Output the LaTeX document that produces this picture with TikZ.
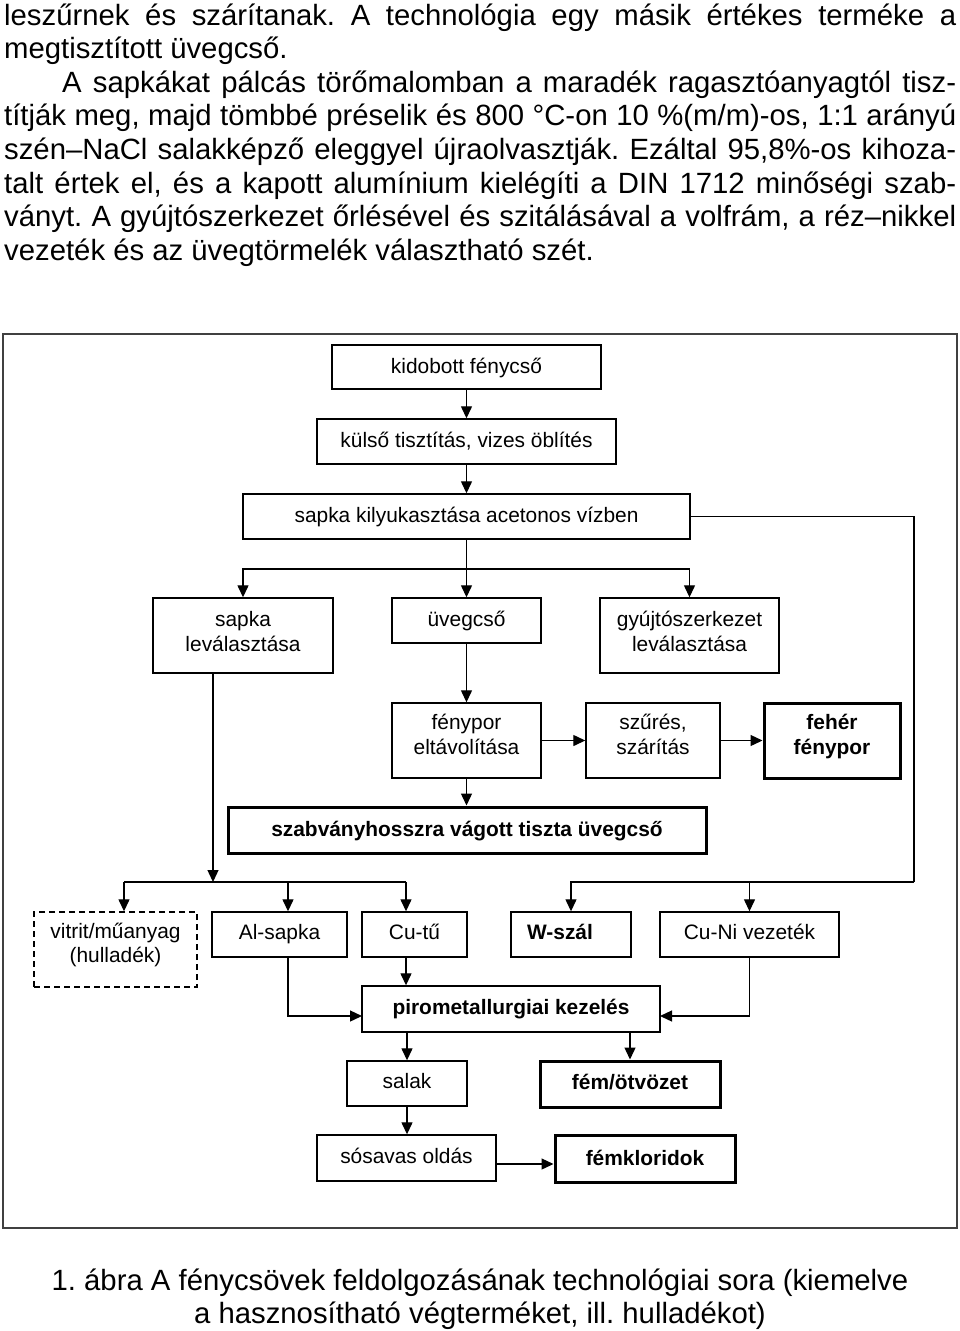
\documentclass[tikz,border=0pt]{standalone}
\usepackage{fontspec}
\setmainfont{Liberation Sans}
\usetikzlibrary{arrows.meta,calc}
\newcommand\bodyfnt{\fontsize{29.3pt}{33.6pt}\selectfont}
\newcommand\boxfnt{\fontsize{20.9pt}{24.5pt}\selectfont}
\newcommand\fstrut{\rule{0pt}{16pt}}
\frenchspacing
\begin{document}
\begin{tikzpicture}[x=1pt,y=-1pt,
  box/.style={draw, line width=1.4pt, inner sep=0pt},
  thickbox/.style={draw, line width=3pt, inner sep=0pt},
  dbox/.style={draw, line width=1.4pt, inner sep=0pt, dash pattern=on 6pt off 4pt},
  txt/.style={anchor=base, inner sep=0pt, font=\boxfnt},
  btxt/.style={anchor=base, inner sep=0pt, font=\boxfnt\bfseries},
  ttxt/.style={anchor=north, align=center, inner sep=0pt, font=\boxfnt},
  bttxt/.style={anchor=north, align=center, inner sep=0pt, font=\boxfnt\bfseries},
  body/.style={anchor=base west, inner sep=0pt, font=\bodyfnt},
  captxt/.style={anchor=base, inner sep=0pt, font=\bodyfnt},
  ln/.style={line width=1.3pt},
  arr/.style={line width=1.3pt, -{Triangle[length=12pt,width=11pt]}}]
\useasboundingbox (0,0) rectangle (960,1331);

% body text
\node[body] (l1) at (4,25) {\makebox[952pt][s]{leszűrnek és szárítanak. A technológia egy másik értékes terméke a}};
\node[body] (l2) at (4,58.6) {megtisztított üvegcső.};
\node[body] (l3) at (62,92.2) {\makebox[894pt][s]{A sapkákat pálcás törőmalomban a maradék ragasztóanyagtól tisz-}};
\node[body] (l4) at (4,125.8) {\makebox[952pt][s]{títják meg, majd tömbbé préselik és 800 °C-on 10 \%(m/m)-os, 1:1 arányú}};
\node[body] (l5) at (4,159.4) {\makebox[952pt][s]{szén–NaCl salakképző eleggyel újraolvasztják. Ezáltal 95,8\%-os kihoza-}};
\node[body] (l6) at (4,193) {\makebox[952pt][s]{talt értek el, és a kapott alumínium kielégíti a DIN 1712 minőségi szab-}};
\node[body] (l7) at (4,226.6) {\makebox[952pt][s]{ványt. A gyújtószerkezet őrlésével és szitálásával a volfrám, a réz–nikkel}};
\node[body] (l8) at (4,260.2) {vezeték és az üvegtörmelék választható szét.};

% frame
\node[draw=black!75, line width=1.5pt, inner sep=0pt, minimum width=954pt, minimum height=894pt] (frame) at (480,781) {};

% boxes
\node[box, minimum width=269pt, minimum height=44pt] (kid) at (466.5,367) {};
\node[box, minimum width=299pt, minimum height=45pt] (kul) at (466.5,441.5) {};
\node[box, minimum width=447pt, minimum height=45pt] (kil) at (466.5,516.5) {};
\node[box, minimum width=180pt, minimum height=75pt] (slev) at (243,635.5) {};
\node[box, minimum width=149pt, minimum height=45pt] (uveg) at (466.5,620.5) {};
\node[box, minimum width=179pt, minimum height=75pt] (gyu) at (689.5,635.5) {};
\node[box, minimum width=149pt, minimum height=75pt] (fen) at (466.5,740.5) {};
\node[box, minimum width=134pt, minimum height=75pt] (szu) at (653,740.5) {};
\node[thickbox, minimum width=136pt, minimum height=75pt] (feh) at (832,740.5) {};
\node[thickbox, minimum width=478pt, minimum height=46pt] (szab) at (467,830) {};
\node[dbox, minimum width=163pt, minimum height=75pt] (vit) at (115.5,949.5) {};
\node[box, minimum width=135pt, minimum height=45pt] (al) at (279.5,934.5) {};
\node[box, minimum width=105pt, minimum height=45pt] (cu) at (414.5,934.5) {};
\node[box, minimum width=120pt, minimum height=45pt] (w) at (571,934.5) {};
\node[box, minimum width=179pt, minimum height=45pt] (cuni) at (749.5,934.5) {};
\node[box, minimum width=298pt, minimum height=46pt] (piro) at (511,1009) {};
\node[box, minimum width=120pt, minimum height=45pt] (salak) at (407,1083.5) {};
\node[thickbox, minimum width=180pt, minimum height=46pt] (fem) at (630,1084) {};
\node[box, minimum width=179pt, minimum height=46pt] (sos) at (406.5,1158) {};
\node[thickbox, minimum width=180pt, minimum height=47pt] (femk) at (645,1158.5) {};

% texts
\node[txt] (kidt) at (466.5,373) {kidobott fénycső};
\node[txt] (kult) at (466.5,447.5) {külső tisztítás, vizes öblítés};
\node[txt] (kilt) at (466.5,522.5) {sapka kilyukasztása acetonos vízben};
\node[ttxt] (slevt) at (243,610.5) {\fstrut sapka\\leválasztása};
\node[txt] (uvegt) at (466.5,626.5) {üvegcső};
\node[ttxt] (gyut) at (689.5,610.5) {\fstrut gyújtószerkezet\\leválasztása};
\node[ttxt] (fent) at (466.5,713.5) {\fstrut fénypor\\eltávolítása};
\node[ttxt] (szut) at (653,713.5) {\fstrut szűrés,\\szárítás};
\node[bttxt] (feht) at (832,713.5) {\fstrut fehér\\fénypor};
\node[btxt] (szabt) at (467,836) {szabványhosszra vágott tiszta üvegcső};
\node[ttxt] (vitt) at (115.5,922) {\fstrut vitrit/műanyag\\(hulladék)};
\node[txt] (alt) at (279.5,939) {Al-sapka};
\node[txt] (cut) at (414.5,939) {Cu-tű};
\node[btxt] (wt) at (560,939) {W-szál};
\node[txt] (cunit) at (749.5,939) {Cu-Ni vezeték};
\node[btxt] (pirot) at (511,1014) {pirometallurgiai kezelés};
\node[txt] (salakt) at (407,1088) {salak};
\node[btxt] (femt) at (630,1089) {fém/ötvözet};
\node[txt] (sost) at (406.5,1163) {sósavas oldás};
\node[btxt] (femkt) at (645,1165) {fémkloridok};

% junction coordinates
\coordinate (j1) at (466.5,569);
\coordinate (jr) at (914,882);
\coordinate (jl) at (213,882);
\coordinate (jv) at (124,882);
\coordinate (ja) at (288,882);
\coordinate (jc) at (406,882);
\coordinate (pl) at (362,1016);
\coordinate (pr) at (660,1016);
\coordinate (s1) at ($(sos.east)+(0,6)$);

% connectors
\draw[arr] (kid.south) -- (kul.north);
\draw[arr] (kul.south) -- (kil.north);
\draw[ln] (kil.south) -- (j1);
\draw[arr] (j1) -- (uveg.north);
\draw[arr] (j1) -| (slev.north);
\draw[arr] (j1) -| (gyu.north);
\draw[ln] (kil.east) -| (jr);
\draw[arr] (jr) -| (w.north);
\draw[arr] (cuni.north |- jr) -- (cuni.north);
\draw[arr] (uveg.south) -- (fen.north);
\draw[arr] (fen.east) -- (szu.west);
\draw[arr] (szu.east) -- (feh.west);
\draw[arr] (fen.south) -- (fen.south |- szab.north);
\draw[arr] (slev.south -| jl) -- (jl);
\draw[ln] (jv) -- (jc);
\draw[arr] (jv) -- (jv |- vit.north);
\draw[arr] (ja) -- (ja |- al.north);
\draw[arr] (jc) -- (jc |- cu.north);
\draw[arr] (ja |- al.south) |- (pl);
\draw[arr] (cuni.south) |- (pr);
\draw[arr] (jc |- cu.south) -- (jc |- piro.north);
\draw[arr] (salak.north |- piro.south) -- (salak.north);
\draw[arr] (fem.north |- piro.south) -- (fem.north);
\draw[arr] (salak.south) -- (salak.south |- sos.north);
\draw[arr] (s1) -- (s1 -| femk.west);

% caption
\node[captxt] (cap1) at (480,1290) {1. ábra A fénycsövek feldolgozásának technológiai sora (kiemelve};
\node[captxt] (cap2) at (480,1323) {a hasznosítható végterméket, ill. hulladékot)};
\end{tikzpicture}
\end{document}
